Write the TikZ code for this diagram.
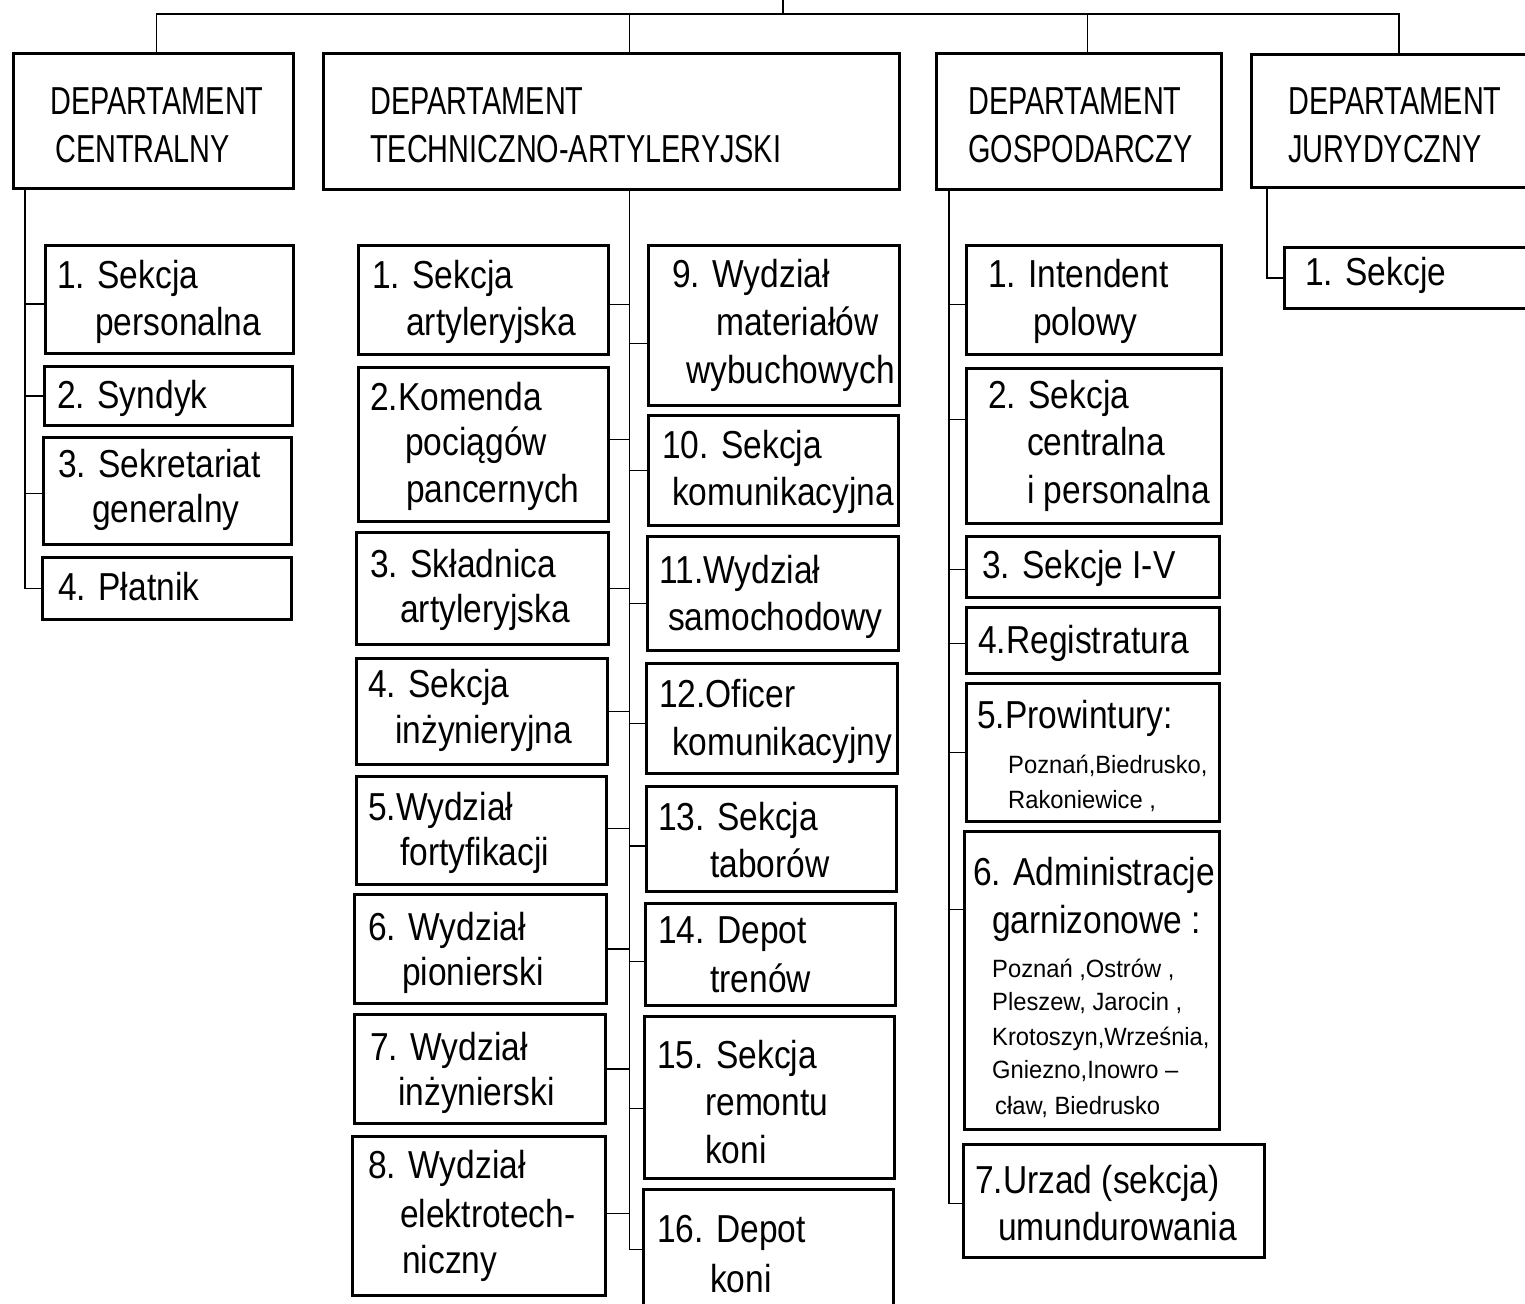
\documentclass[tikz,border=0pt]{standalone}
\usepackage{fontspec}
\setmainfont{Liberation Sans}
\newfontfamily\lowf[FakeStretch=0.86]{Liberation Sans}
\newfontfamily\capf[FakeStretch=0.74]{Liberation Sans}
\newfontfamily\smf[FakeStretch=0.95]{Liberation Sans}
\usetikzlibrary{calc}
\tikzset{
  ubox/.style={draw, line width=2.8pt, inner sep=0pt, anchor=north west},
  conn/.style={line width=1.6pt},
  tx/.style={inner sep=0pt, anchor=base west, font=\lowf\fontsize{39}{47}\selectfont},
  hx/.style={inner sep=0pt, anchor=base west, font=\capf\fontsize{39}{47}\selectfont},
  sx/.style={inner sep=0pt, anchor=base west, font=\smf\fontsize{25}{30}\selectfont},
}
\newcommand\UnitBox[5]{\node[ubox, minimum width={(#4-#2)*1pt}, minimum height={(#5-#3)*1pt}] (#1) at (#2,#3) {};}
\newcommand\TxLine[4]{\node[tx] (#1) at (#2,#3) {#4};}
\newcommand\HdLine[4]{\node[hx] (#1) at (#2,#3) {#4};}
\newcommand\SmLine[4]{\node[sx] (#1) at (#2,#3) {#4};}
\begin{document}
\begin{tikzpicture}[x=1pt,y=-1pt]
\useasboundingbox (0,0) rectangle (1525,1303);
\fill[white] (0,0) rectangle (1525,1303);
\clip (0,0) rectangle (1525,1303);

% ---------- department boxes ----------
\UnitBox{dA}{12}{52}{292}{187}
\UnitBox{dB}{322}{52}{898}{188}
\UnitBox{dC}{935}{52}{1220}{188}
\UnitBox{dD}{1250}{53}{1545}{186}
\HdLine{dAt1}{50}{115}{DEPARTAMENT}
\HdLine{dAt2}{55}{162}{CENTRALNY}
\HdLine{dBt1}{370}{115}{DEPARTAMENT}
\HdLine{dBt2}{370}{162}{TECHNICZNO-ARTYLERYJSKI}
\HdLine{dCt1}{968}{115}{DEPARTAMENT}
\HdLine{dCt2}{968}{162}{GOSPODARCZY}
\HdLine{dDt1}{1288}{115}{DEPARTAMENT}
\HdLine{dDt2}{1288}{162}{JURYDYCZNY}

% ---------- column A ----------
\UnitBox{a1}{44}{244}{292}{352}
\UnitBox{a2}{43}{365}{291}{424}
\UnitBox{a3}{42}{436}{290}{543}
\UnitBox{a4}{41}{556}{290}{618}
\TxLine{a1t1}{57}{288}{1. Sekcja}
\TxLine{a1t2}{95}{335}{personalna}
\TxLine{a2t1}{57}{408}{2. Syndyk}
\TxLine{a3t1}{58}{477}{3. Sekretariat}
\TxLine{a3t2}{92}{522}{generalny}
\TxLine{a4t1}{58}{600}{4. Płatnik}

% ---------- column B left ----------
\UnitBox{b1}{357}{244}{607}{353}
\UnitBox{b2}{357}{366}{607}{520}
\UnitBox{b3}{355}{531}{607}{643}
\UnitBox{b4}{355}{657}{606}{763}
\UnitBox{b5}{355}{775}{605}{883}
\UnitBox{b6}{353}{893}{605}{1002}
\UnitBox{b7}{353}{1013}{604}{1122}
\UnitBox{b8}{351}{1135}{604}{1294}
\TxLine{b1t1}{372}{288}{1. Sekcja}
\TxLine{b1t2}{406}{335}{artyleryjska}
\TxLine{b2t1}{370}{410}{2.Komenda}
\TxLine{b2t2}{405}{455}{pociągów}
\TxLine{b2t3}{406}{502}{pancernych}
\TxLine{b3t1}{370}{577}{3. Składnica}
\TxLine{b3t2}{400}{622}{artyleryjska}
\TxLine{b4t1}{368}{697}{4. Sekcja}
\TxLine{b4t2}{395}{743}{inżynieryjna}
\TxLine{b5t1}{368}{820}{5.Wydział}
\TxLine{b5t2}{400}{865}{fortyfikacji}
\TxLine{b6t1}{368}{940}{6. Wydział}
\TxLine{b6t2}{402}{985}{pionierski}
\TxLine{b7t1}{370}{1060}{7. Wydział}
\TxLine{b7t2}{398}{1105}{inżynierski}
\TxLine{b8t1}{368}{1178}{8. Wydział}
\TxLine{b8t2}{400}{1227}{elektrotech-}
\TxLine{b8t3}{402}{1273}{niczny}

% ---------- column B right ----------
\UnitBox{b9}{647}{244}{898}{404}
\UnitBox{b10}{647}{414}{897}{524}
\UnitBox{b11}{646}{535}{897}{649}
\UnitBox{b12}{645}{662}{896}{772}
\UnitBox{b13}{645}{785}{895}{890}
\UnitBox{b14}{644}{902}{894}{1004}
\UnitBox{b15}{643}{1015}{893}{1177}
\UnitBox{b16}{642}{1188}{892}{1330}
\TxLine{b9t1}{672}{287}{9. Wydział}
\TxLine{b9t2}{716}{335}{materiałów}
\TxLine{b9t3}{686}{383}{wybuchowych}
\TxLine{b10t1}{662}{458}{10. Sekcja}
\TxLine{b10t2}{672}{505}{komunikacyjna}
\TxLine{b11t1}{659}{583}{11.Wydział}
\TxLine{b11t2}{668}{630}{samochodowy}
\TxLine{b12t1}{659}{707}{12.Oficer}
\TxLine{b12t2}{672}{755}{komunikacyjny}
\TxLine{b13t1}{658}{830}{13. Sekcja}
\TxLine{b13t2}{710}{877}{taborów}
\TxLine{b14t1}{658}{943}{14. Depot}
\TxLine{b14t2}{710}{992}{trenów}
\TxLine{b15t1}{657}{1068}{15. Sekcja}
\TxLine{b15t2}{705}{1115}{remontu}
\TxLine{b15t3}{705}{1163}{koni}
\TxLine{b16t1}{657}{1242}{16. Depot}
\TxLine{b16t2}{710}{1292}{koni}

% ---------- column C ----------
\UnitBox{c1}{965}{244}{1220}{353}
\UnitBox{c2}{965}{367}{1220}{522}
\UnitBox{c3}{965}{535}{1218}{596}
\UnitBox{c4}{965}{606}{1218}{672}
\UnitBox{c5}{965}{682}{1218}{820}
\UnitBox{c6}{963}{830}{1218}{1128}
\UnitBox{c7}{962}{1143}{1263}{1256}
\TxLine{c1t1}{988}{287}{1. Intendent}
\TxLine{c1t2}{1033}{335}{polowy}
\TxLine{c2t1}{988}{408}{2. Sekcja}
\TxLine{c2t2}{1027}{455}{centralna}
\TxLine{c2t3}{1027}{503}{i personalna}
\TxLine{c3t1}{982}{578}{3. Sekcje I-V}
\TxLine{c4t1}{978}{653}{4.Registratura}
\TxLine{c5t1}{977}{728}{5.Prowintury:}
\SmLine{c5t2}{1008}{773}{Poznań,Biedrusko,}
\SmLine{c5t3}{1008}{808}{Rakoniewice ,}
\TxLine{c6t1}{973}{885}{6. Administracje}
\TxLine{c6t2}{992}{933}{garnizonowe :}
\SmLine{c6t3}{992}{977}{Poznań ,Ostrów ,}
\SmLine{c6t4}{992}{1010}{Pleszew, Jarocin ,}
\SmLine{c6t5}{992}{1045}{Krotoszyn,Września,}
\SmLine{c6t6}{992}{1078}{Gniezno,Inowro –}
\SmLine{c6t7}{995}{1114}{cław, Biedrusko}
\TxLine{c7t1}{975}{1193}{7.Urzad (sekcja)}
\TxLine{c7t2}{998}{1240}{umundurowania}

% ---------- column D ----------
\UnitBox{d1}{1283}{246}{1545}{307}
\TxLine{d1t1}{1305}{285}{1. Sekcje}

% ---------- connectors ----------
\coordinate (root) at (783,0);
\coordinate (bus) at (783,14);
\draw[conn] (root) -- (bus);
\draw[conn] ([xshift=3pt]dA.north) -- ([xshift=3pt]dA.north |- bus) -- (dD.north |- bus) -- (dD.north);
\draw[conn] ([xshift=18pt]dB.north) -- ([xshift=18pt]dB.north |- bus);
\draw[conn] ([xshift=8.5pt]dC.north) -- ([xshift=8.5pt]dC.north |- bus);

% column A
\coordinate (va) at ([xshift=13pt]dA.south west);
\draw[conn] (va) |- (a4.west);
\draw[conn] ([yshift=-4.5pt]a1.west) -- ([yshift=-4.5pt]a1.west -| va);
\draw[conn] (a2.west) -- (a2.west -| va);
\draw[conn] ([yshift=-2.5pt]a3.west) -- ([yshift=-2.5pt]a3.west -| va);

% column B
\coordinate (vb) at ([xshift=18pt]dB.south);
\draw[conn] (vb) |- ([yshift=11pt]b16.west);
\draw[conn] ([yshift=-4.5pt]b1.east) -- ([yshift=-4.5pt]b1.east -| vb);
\draw[conn] ([yshift=5pt]b2.east) -- ([yshift=5pt]b2.east -| vb);
\draw[conn] (b3.east) -- (b3.east -| vb);
\draw[conn] (b4.east) -- (b4.east -| vb);
\draw[conn] ([yshift=2pt]b5.east) -- ([yshift=2pt]b5.east -| vb);
\draw[conn] (b6.east) -- (b6.east -| vb);
\draw[conn] (b7.east) -- (b7.east -| vb);
\draw[conn] ([yshift=2.5pt]b8.east) -- ([yshift=2.5pt]b8.east -| vb);
\draw[conn] ([yshift=-18pt]b9.west) -- ([yshift=-18pt]b9.west -| vb);
\draw[conn] (b10.west) -- (b10.west -| vb);
\draw[conn] ([yshift=-10pt]b11.west) -- ([yshift=-10pt]b11.west -| vb);
\draw[conn] ([yshift=-5pt]b12.west) -- ([yshift=-5pt]b12.west -| vb);
\draw[conn] ([yshift=-7pt]b13.west) -- ([yshift=-7pt]b13.west -| vb);
\draw[conn] ([yshift=-7pt]b14.west) -- ([yshift=-7pt]b14.west -| vb);
\draw[conn] ([yshift=-11pt]b15.west) -- ([yshift=-11pt]b15.west -| vb);

% column C
\coordinate (vc) at ([xshift=14pt]dC.south west);
\draw[conn] (vc) |- ([yshift=-2.5pt]c7.west);
\draw[conn] ([yshift=-4.5pt]c1.west) -- ([yshift=-4.5pt]c1.west -| vc);
\draw[conn] ([yshift=26.5pt]c2.west) -- ([yshift=26.5pt]c2.west -| vc);
\draw[conn] ([yshift=-2.5pt]c3.west) -- ([yshift=-2.5pt]c3.west -| vc);
\draw[conn] ([yshift=-3pt]c4.west) -- ([yshift=-3pt]c4.west -| vc);
\draw[conn] (c5.west) -- (c5.west -| vc);
\draw[conn] ([yshift=71pt]c6.west) -- ([yshift=71pt]c6.west -| vc);

% column D
\coordinate (vd) at ([xshift=17pt]dD.south west);
\draw[conn] (vd) |- (d1.west);
\end{tikzpicture}
\end{document}
